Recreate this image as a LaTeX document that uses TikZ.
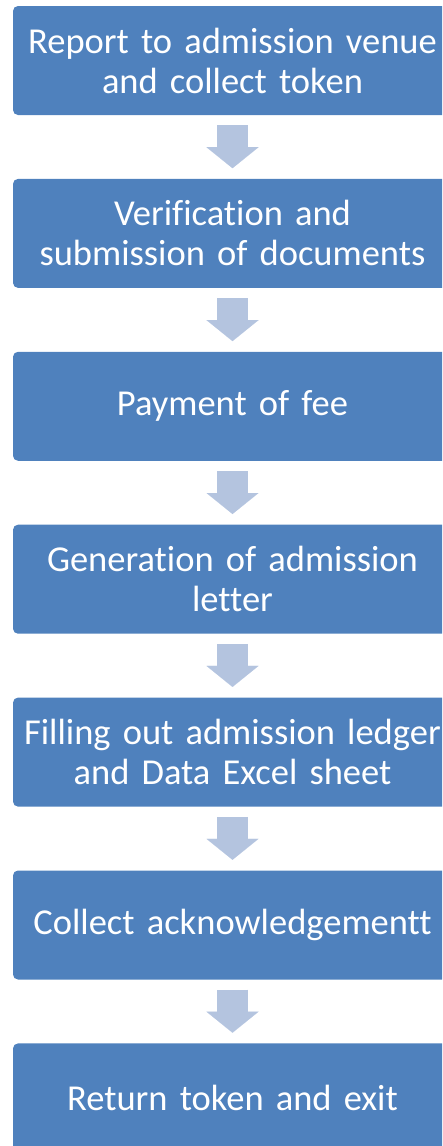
\documentclass[tikz,border=0pt]{standalone}
\usepackage{fontspec}
\setmainfont[Ligatures=NoCommon,WordSpace=0.8]{Carlito}
\usetikzlibrary{positioning,arrows.meta}
\definecolor{boxblue}{HTML}{4F81BD}
\definecolor{arrowblue}{HTML}{B4C4DF}

\begin{document}
\begin{tikzpicture}[x=1pt,y=1pt,
    stepbox/.style={fill=boxblue,rounded corners=5pt,minimum width=439pt,minimum height=109pt,text width=436pt,align=center,text=white,font=\fontsize{36.5}{40}\selectfont,inner sep=0pt},
    flow/.style={draw=arrowblue,line width=31pt,-{Triangle[width=52pt,length=21pt,line width=0.01pt]},shorten <=10pt,shorten >=10.5pt}]
    \useasboundingbox (0,0) rectangle (442,-1146);
    \clip (0,0) rectangle (442,-1146);
    \node[stepbox] (report) at (232.5,-60.5) {Report to admission venue\\and collect token};
    \node[stepbox,below=63.5pt of report] (verify) {Verification and\\submission of documents};
    \node[stepbox,below=63.5pt of verify] (fee) {Payment of fee};
    \node[stepbox,below=63.5pt of fee] (letter) {Generation of admission\\letter};
    \node[stepbox,below=63.5pt of letter] (ledger) {Filling out admission ledger\\and Data Excel sheet};
    \node[stepbox,below=63.5pt of ledger] (ack) {Collect acknowledgementt};
    \node[stepbox,below=63.5pt of ack] (exit) {Return token and exit};

    \draw[flow] (report) -- (verify);
    \draw[flow] (verify) -- (fee);
    \draw[flow] (fee) -- (letter);
    \draw[flow] (letter) -- (ledger);
    \draw[flow] (ledger) -- (ack);
    \draw[flow] (ack) -- (exit);
\end{tikzpicture}
\end{document}
